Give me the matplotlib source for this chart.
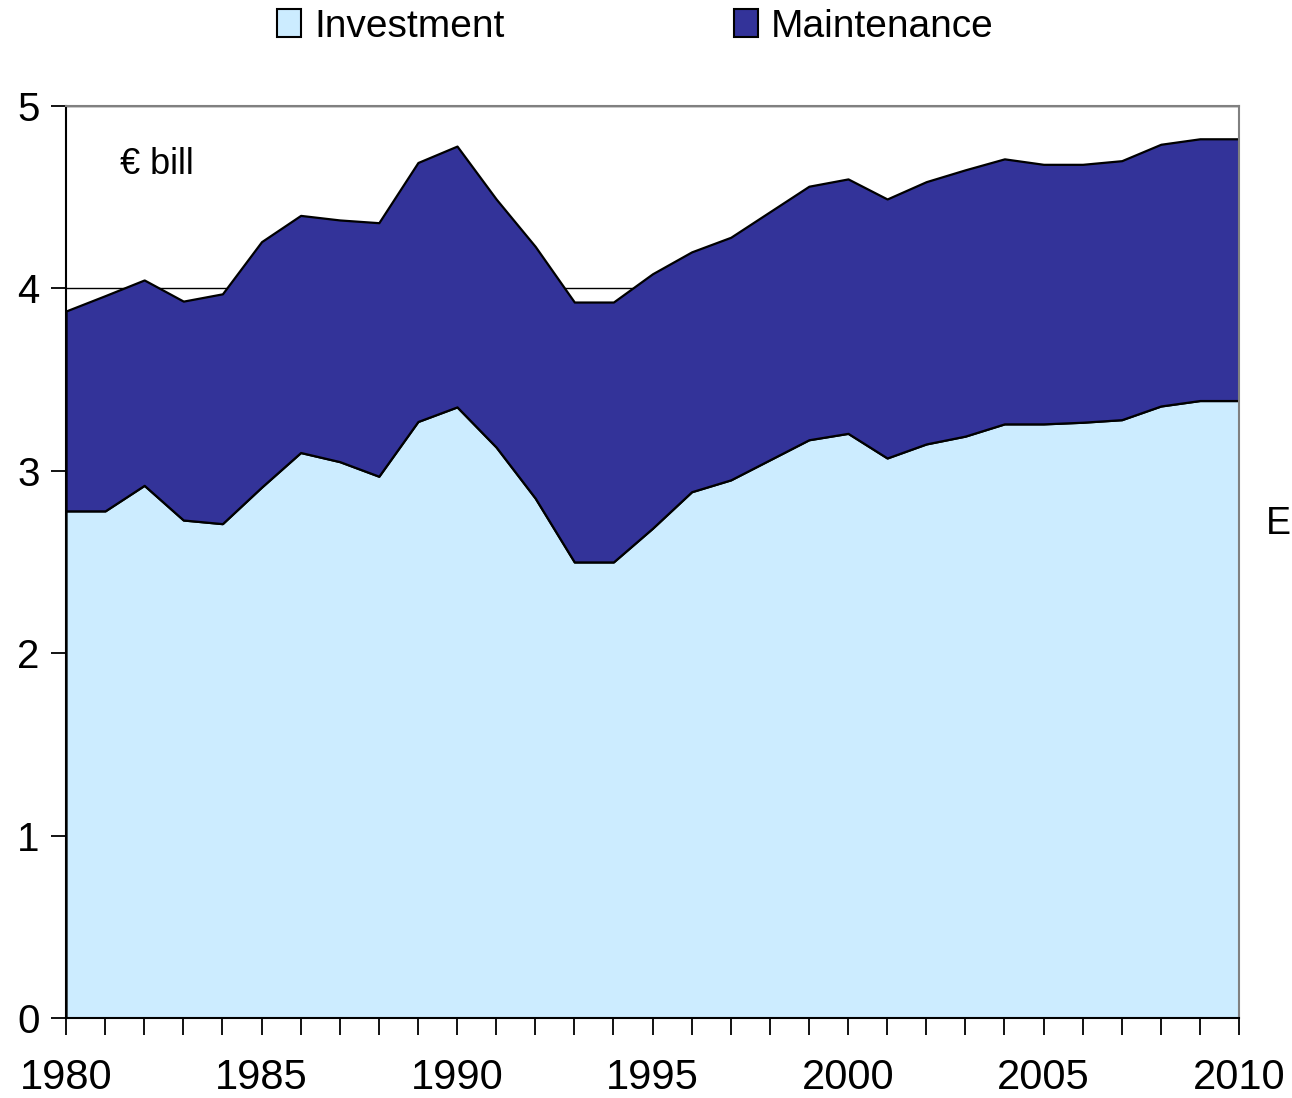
import matplotlib
matplotlib.use("Agg")
import matplotlib.pyplot as plt
from matplotlib.patches import Patch
import numpy as np

plt.rcParams['font.family'] = ['Liberation Sans', 'DejaVu Sans']

# Data (EUR billion).
years = list(range(1980, 2011))
investment = [2.78, 2.78, 2.92, 2.73, 2.71, 2.91, 3.10, 3.05, 2.97, 3.27,
              3.35, 3.13, 2.85, 2.50, 2.50, 2.685, 2.885, 2.95, 3.06, 3.17,
              3.205, 3.07, 3.147, 3.19, 3.257, 3.257, 3.266, 3.28, 3.355, 3.385,
              3.385]
total = [3.876, 3.96, 4.046, 3.93, 3.97, 4.256, 4.40, 4.375, 4.36, 4.69,
         4.78, 4.49, 4.23, 3.925, 3.925, 4.08, 4.20, 4.28, 4.42, 4.56,
         4.60, 4.49, 4.585, 4.65, 4.71, 4.68, 4.68, 4.70, 4.79, 4.82,
         4.82]
maintenance = [t - i for t, i in zip(total, investment)]

series_names = ["Investment", "Maintenance"]
series_colors = ["#CCECFF", "#333399"]
x_labels = [1980, 1985, 1990, 1995, 2000, 2005, 2010]
y_ticks = [0, 1, 2, 3, 4, 5]

fig = plt.figure(figsize=(12.92, 10.98), dpi=100)
ax = fig.add_axes([0.0511, 0.0729, 0.9079, 0.8306])

ax.stackplot(years, investment, maintenance, colors=series_colors,
             edgecolor='black', linewidth=1.6, zorder=2)

ax.set_xlim(1980, 2010)
ax.set_ylim(0, 5)
ax.set_yticks(y_ticks)
ax.set_xticks(years, minor=True)
ax.set_xticks(x_labels)

ax.yaxis.grid(True, color='black', linewidth=1.0, zorder=0)
ax.set_axisbelow(True)

for side in ['top', 'right']:
    ax.spines[side].set_color('#808080')
    ax.spines[side].set_linewidth(1.5)
for side in ['left', 'bottom']:
    ax.spines[side].set_color('black')
    ax.spines[side].set_linewidth(1.5)

ax.tick_params(axis='y', direction='out', length=11, width=1.3, labelsize=29, pad=8)
ax.tick_params(axis='x', which='both', direction='out', length=12, width=1.3)
ax.tick_params(axis='x', which='major', labelsize=30, pad=17)

ax.text(0.046, 0.936, "€ bill", transform=ax.transAxes, fontsize=26,
        ha='left', va='center')
fig.text(0.9995, 0.523, "E", fontsize=27, ha='right', va='center')

handles = [Patch(facecolor=c, edgecolor='black', linewidth=1.5) for c in series_colors]
fig.legend(handles, series_names, loc='upper center', bbox_to_anchor=(0.492, 1.024),
           ncol=2, frameon=False, fontsize=28, handlelength=0.6, handleheight=0.7,
           handletextpad=0.35, columnspacing=5.9)

fig.savefig("out.png", dpi=100)
